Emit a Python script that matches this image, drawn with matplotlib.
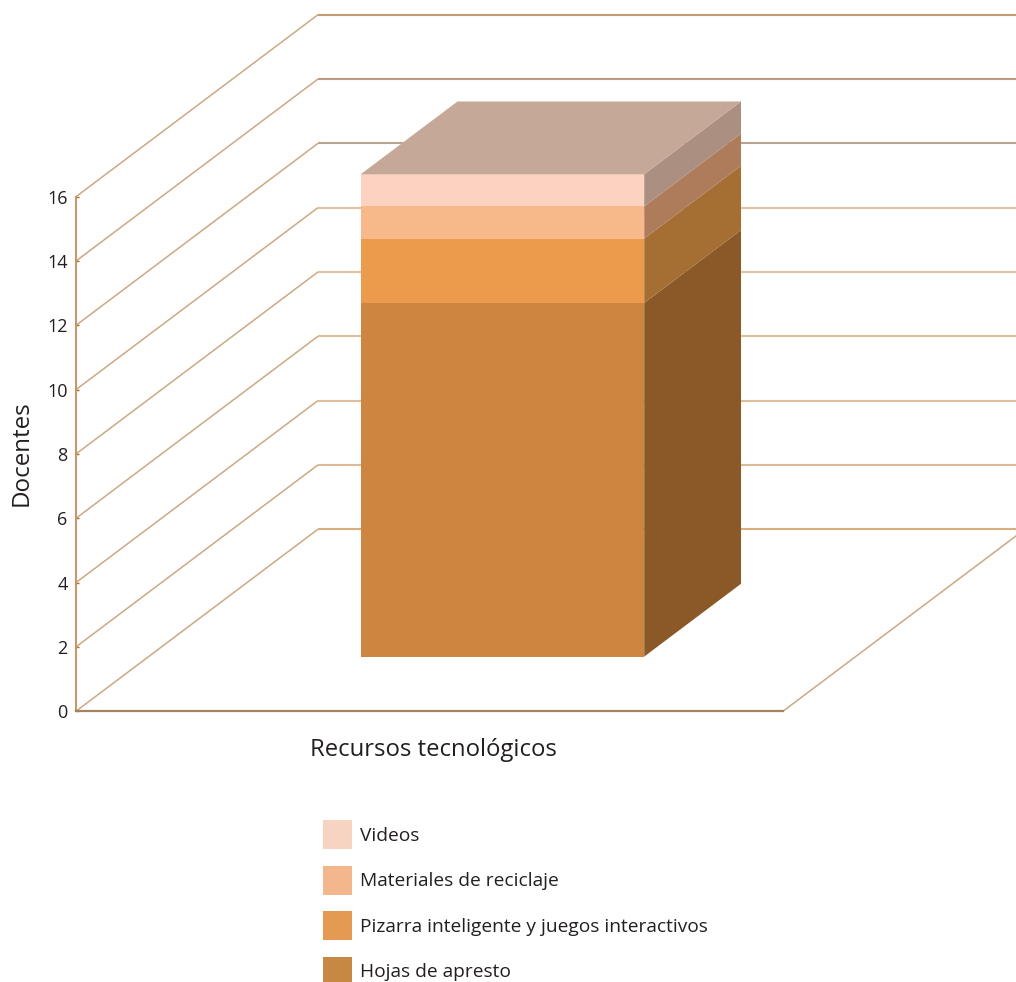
import matplotlib
matplotlib.use("Agg")
import matplotlib.pyplot as plt
from matplotlib.patches import Polygon, Patch

plt.rcParams['font.family'] = ['Open Sans', 'DejaVu Sans']

# --- data ---
category = "Recursos tecnológicos"
series_names = ["Hojas de apresto", "Pizarra inteligente y juegos interactivos",
                "Materiales de reciclaje", "Videos"]
series_values = [11, 2, 1, 1]
y_ticks = [0, 2, 4, 6, 8, 10, 12, 14, 16]

# --- styles ---
front_colors = ["#ce853f", "#ec9a4b", "#f7b98a", "#fcd3c0"]
side_colors = ["#8b5827", "#a56e33", "#ae7c5a", "#ab8f80"]
top_color = "#c6a898"
legend_colors = ["#c78843", "#e59a54", "#f4b78d", "#f7d4c1"]
wall_colors = ["#d9ae80", "#dcba96", "#dfbe9c", "#dfbe9c", "#e0c2a2",
               "#e0c2a2", "#b8a48f", "#b89b80", "#c49c74"]
W, H = 1016, 982
AX_H = 514.5
fig = plt.figure(figsize=(W / 100, H / 100), dpi=100)
ax = fig.add_axes([76 / W, (H - 711.2) / H, 707 / W, AX_H / H])
ax.set_xlim(0, 1)
ax.set_ylim(0, 16)
for s in ax.spines.values():
    s.set_visible(False)

# oblique depth: full depth moves right and up by these amounts (axes units)
DX = 242 / 707
DY = 182 / (AX_H / 16)


def proj(x, v, d):
    return (x + d * DX, v + d * DY)


# walls
for t, c in zip(y_ticks, wall_colors):
    ax.plot(*zip(proj(0, t, 0), proj(0, t, 1)), color="#cba984", lw=1.1, clip_on=False, zorder=1, solid_capstyle='butt')
    ax.plot(*zip(proj(0, t, 1), proj(1, t, 1)), color=c, lw=1.5, clip_on=False, zorder=1, solid_capstyle='butt')
ax.plot(*zip(proj(1, 0, 0), proj(1, 0, 1)), color="#cba984", lw=1.1, clip_on=False, zorder=1)
ax.plot([0, 0], [0, 16], color="#c39a6c", lw=1.5, clip_on=False, zorder=2)
ax.plot([0, 1], [0, 0], color="#a5835f", lw=1.6, clip_on=False, zorder=2)

# stacked 3-D bar
x0, x1 = 0.3, 0.701
d0, d1 = 0.3, 0.7
bottom = 0
for val, fc, sc in zip(series_values, front_colors, side_colors):
    top = bottom + val
    xa, ya = proj(x0, bottom, d0)
    ax.bar(xa, val, width=x1 - x0, bottom=ya, align='edge', color=fc, lw=0, zorder=4, clip_on=False)
    ax.add_patch(Polygon([proj(x1, bottom, d0), proj(x1, bottom, d1), proj(x1, top, d1), proj(x1, top, d0)],
                         closed=True, fc=sc, lw=0, zorder=4, clip_on=False))
    bottom = top
ax.add_patch(Polygon([proj(x0, bottom, d0), proj(x1, bottom, d0), proj(x1, bottom, d1), proj(x0, bottom, d1)],
                     closed=True, fc=top_color, lw=0, zorder=4, clip_on=False))

# axes text
ax.set_yticks(y_ticks)
ax.set_xticks([])
ax.tick_params(axis='y', direction='in', length=2.5, width=1, color="#b5681f",
               labelsize=13, labelcolor="#231f20", pad=6)
ax.set_ylabel("Docentes", fontsize=17.4, color="#231f20", va='center')
ax.yaxis.set_label_coords((21.5 - 76) / 707, (711 - 452.5) / AX_H)
ax.set_xlabel(category, fontsize=17.2, color="#231f20", va='center')
ax.xaxis.set_label_coords((433 - 76) / 707, -(750 - 711) / AX_H)

# legend
handles = [Patch(fc=c, lw=0) for c in legend_colors[::-1]]
fs = 13.75
px = fs * 100 / 72
ax.legend(handles, series_names[::-1], loc='upper left',
          bbox_to_anchor=(323 / W, 1 - 820 / H), bbox_transform=fig.transFigure,
          frameon=False, fontsize=fs, borderpad=0, borderaxespad=0,
          handlelength=29 / px, handleheight=1.96, handletextpad=8 / px,
          labelspacing=16.5 / px, labelcolor="#231f20")

fig.savefig("out.png", dpi=100)
